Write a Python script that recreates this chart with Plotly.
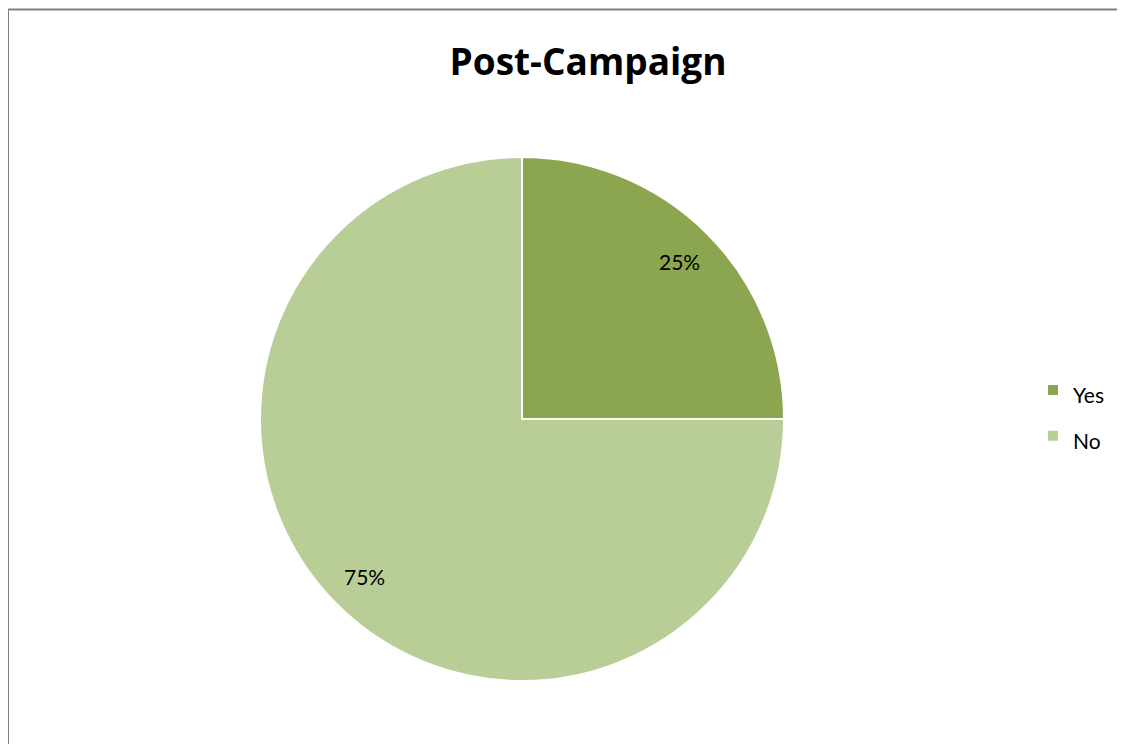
import math
import plotly.graph_objects as go

labels = ["Yes", "No"]
values = [25, 75]
colors = ["#8ba64f", "#b9cd97"]
title_text = "Post-Campaign"

W, H = 1125, 744
OFF = 8  # page body margin offset
cx, cy, r = 522 - OFF, 419 - OFF, 262


def px_x(x):
    return x / W


def px_y(y):
    return 1 - y / H


legend_labels = ['<span style="font-size:21px">' + l + "</span>" for l in labels]

fig = go.Figure(go.Pie(
    labels=legend_labels,
    values=values,
    sort=False,
    direction="clockwise",
    rotation=0,
    marker=dict(colors=colors, line=dict(color="white", width=2)),
    textinfo="none",
    domain=dict(x=[px_x(cx - r), px_x(cx + r)], y=[px_y(cy + r), px_y(cy - r)]),
    hovertemplate="%{label}: %{percent}<extra></extra>",
))

# percentage labels placed along each slice's bisector
total = sum(values)
annotations = []
cum = 0
for v in values:
    mid = (cum + v / 2) / total * 2 * math.pi
    cum += v
    rho = 0.85 * r
    x = cx + rho * math.sin(mid)
    y = cy - rho * math.cos(mid)
    annotations.append(dict(
        x=px_x(x), y=px_y(y), xref="paper", yref="paper", showarrow=False,
        text=f"{v / total:.0%}", xanchor="center", yanchor="middle",
        font=dict(family="Lato, Calibri, sans-serif", size=21, color="black"),
    ))

fig.update_layout(
    width=W, height=H,
    margin=dict(l=0, r=0, t=0, b=0),
    paper_bgcolor="white",
    title=dict(text="<b>" + title_text + "</b>", x=px_x(588 - OFF), xanchor="center",
               y=px_y(62 - OFF), yanchor="middle",
               font=dict(family="Open Sans, sans-serif", size=37, color="black")),
    legend=dict(x=px_x(1033 - OFF), xanchor="left", y=px_y(413 - OFF), yanchor="middle",
                font=dict(family="Lato, Calibri, sans-serif", size=33, color="black"),
                bgcolor="rgba(0,0,0,0)"),
    annotations=annotations,
    shapes=[
        dict(type="line", xref="paper", yref="paper", x0=px_x(0), x1=px_x(0), y0=0, y1=px_y(9.5 - OFF),
             line=dict(color="#808080", width=2)),
        dict(type="line", xref="paper", yref="paper", x0=px_x(-1), x1=1, y0=px_y(9.5 - OFF), y1=px_y(9.5 - OFF),
             line=dict(color="#808080", width=2)),
    ],
)

fig.write_html("out.html")
